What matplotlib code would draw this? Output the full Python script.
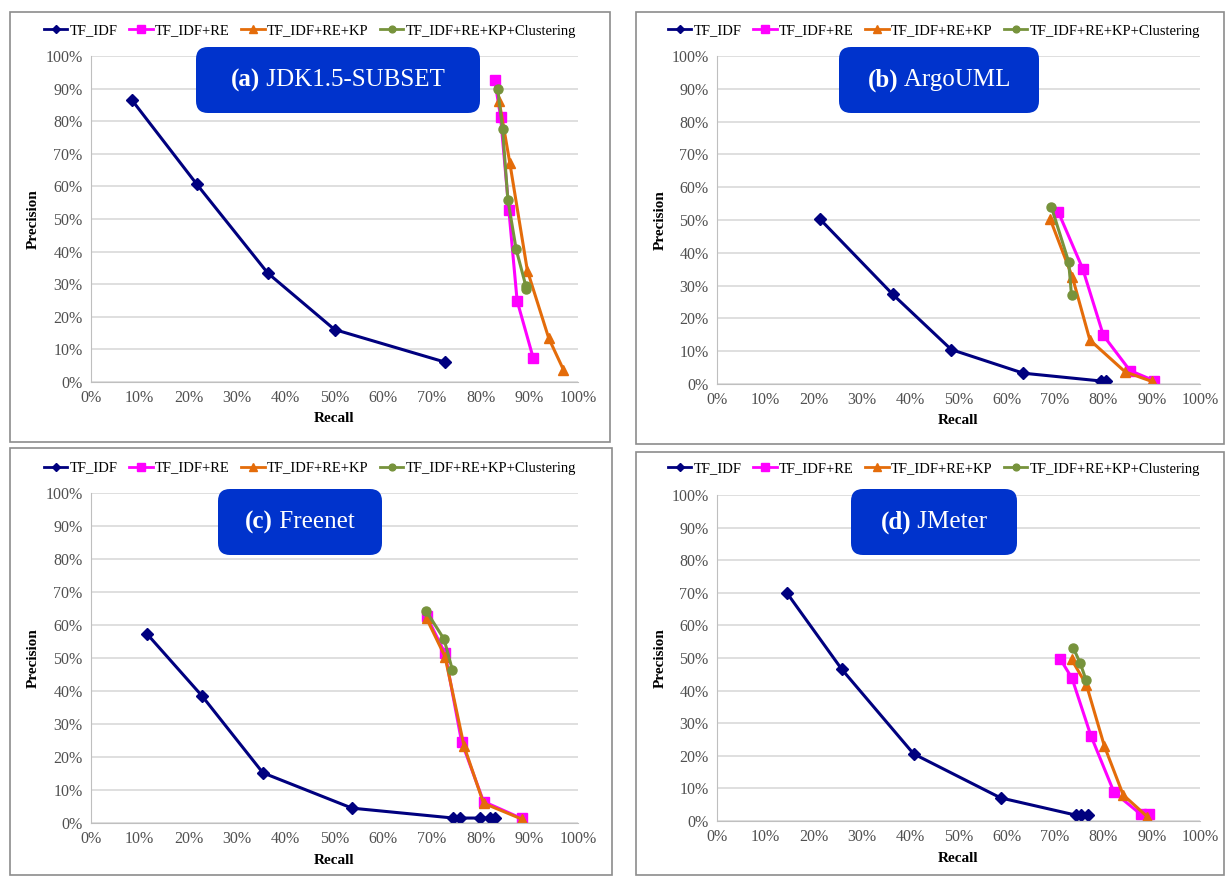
import matplotlib.pyplot as plt
from matplotlib.patches import FancyBboxPatch, Rectangle
from matplotlib.transforms import IdentityTransform
from matplotlib.lines import Line2D

plt.rcParams['font.family'] = ['Liberation Serif', 'DejaVu Serif']

# ---- data (recall %, precision %) ----
# (a) JDK1.5-SUBSET
a_tfidf_r = [8.4, 21.7, 36.3, 50.0, 72.7]
a_tfidf_p = [86.5, 60.7, 33.4, 16.1, 6.1]
a_re_r = [82.9, 84.1, 85.8, 87.5, 90.8]
a_re_p = [92.6, 81.4, 52.8, 24.9, 7.4]
a_kp_r = [83.8, 86.0, 89.6, 94.0, 97.0]
a_kp_p = [86.2, 67.2, 34.2, 13.4, 3.8]
a_cl_r = [83.5, 84.5, 85.6, 87.3, 89.3, 89.4]
a_cl_p = [90.0, 77.7, 55.9, 40.7, 29.4, 28.4]

# (b) ArgoUML
b_tfidf_r = [21.3, 36.4, 48.5, 63.4, 79.6, 80.5]
b_tfidf_p = [50.3, 27.3, 10.5, 3.3, 0.9, 0.9]
b_re_r = [70.7, 75.7, 80.0, 85.5, 90.5]
b_re_p = [52.3, 35.2, 14.8, 4.1, 1.0]
b_kp_r = [69.0, 73.6, 77.2, 84.5, 90.0]
b_kp_p = [50.2, 32.5, 13.4, 3.7, 0.8]
b_cl_r = [69.2, 72.8, 73.4]
b_cl_p = [54.1, 37.3, 27.0]

# (c) Freenet
c_tfidf_r = [11.5, 22.8, 35.3, 53.6, 74.4, 75.7, 79.8, 81.9, 82.9]
c_tfidf_p = [57.3, 38.5, 15.2, 4.5, 1.5, 1.5, 1.5, 1.5, 1.5]
c_re_r = [68.9, 72.7, 76.1, 80.6, 88.4]
c_re_p = [62.7, 51.4, 24.6, 6.5, 1.4]
c_kp_r = [68.9, 72.7, 76.6, 80.6, 88.6]
c_kp_p = [62.0, 50.4, 23.3, 6.0, 1.1]
c_cl_r = [68.8, 72.5, 74.2]
c_cl_p = [64.3, 55.7, 46.4]

# (d) JMeter
d_tfidf_r = [14.5, 25.8, 40.7, 58.7, 74.3, 75.4, 76.9]
d_tfidf_p = [69.9, 46.6, 20.6, 7.1, 1.8, 1.8, 1.8]
d_re_r = [71.1, 73.5, 77.4, 82.2, 87.7, 89.5]
d_re_p = [49.6, 43.8, 26.2, 8.8, 2.1, 2.1]
d_kp_r = [73.4, 76.5, 80.2, 84.1, 89.1]
d_kp_p = [49.6, 41.7, 23.0, 8.0, 1.3]
d_cl_r = [73.8, 75.2, 76.4]
d_cl_p = [53.0, 48.4, 43.3]

series_names = ['TF_IDF', 'TF_IDF+RE', 'TF_IDF+RE+KP', 'TF_IDF+RE+KP+Clustering']
ticks = list(range(0, 101, 10))
tick_labels = [f'{t}%' for t in ticks]

W, H = 1226, 876
fig = plt.figure(figsize=(W / 100, H / 100), dpi=100)
ident = IdentityTransform()

styles = [
    dict(color='#00007F', marker='D', ms=6),
    dict(color='#FF00FF', marker='s', ms=7),
    dict(color='#E46C0A', marker='^', ms=7),
    dict(color='#77933C', marker='o', ms=6.5),
]

panels = [
    dict(frame=(10, 12, 610, 442), ax=(91, 56, 578, 382), box=(196, 47, 480, 113),
         tag='(a)', name='JDK1.5-SUBSET', leg=(310, 31), ylab=33, xlab=418,
         data=[(a_tfidf_r, a_tfidf_p), (a_re_r, a_re_p), (a_kp_r, a_kp_p), (a_cl_r, a_cl_p)]),
    dict(frame=(636, 12, 1224, 444), ax=(717, 56, 1200, 384), box=(839, 47, 1039, 113),
         tag='(b)', name='ArgoUML', leg=(934, 31), ylab=660, xlab=420,
         data=[(b_tfidf_r, b_tfidf_p), (b_re_r, b_re_p), (b_kp_r, b_kp_p), (b_cl_r, b_cl_p)]),
    dict(frame=(10, 448, 612, 875), ax=(91, 493, 578, 823), box=(218, 489, 382, 555),
         tag='(c)', name='Freenet', leg=(310, 468), ylab=33, xlab=860,
         data=[(c_tfidf_r, c_tfidf_p), (c_re_r, c_re_p), (c_kp_r, c_kp_p), (c_cl_r, c_cl_p)]),
    dict(frame=(636, 452, 1224, 875), ax=(717, 495, 1200, 821), box=(851, 489, 1017, 555),
         tag='(d)', name='JMeter', leg=(934, 469), ylab=660, xlab=858,
         data=[(d_tfidf_r, d_tfidf_p), (d_re_r, d_re_p), (d_kp_r, d_kp_p), (d_cl_r, d_cl_p)]),
]

renderer = fig.canvas.get_renderer()

for p in panels:
    x0, y0, x1, y1 = p['frame']
    fig.add_artist(Rectangle((x0, H - y1), x1 - x0, y1 - y0, fill=False,
                             ec='#8C8C8C', lw=1.2, transform=ident))

    l, t, r, b = p['ax']
    ax = fig.add_axes([l / W, 1 - b / H, (r - l) / W, (b - t) / H])
    for (xs, ys), st in zip(p['data'], styles):
        ax.plot(xs, ys, lw=2.2, **st)
    ax.set_xlim(0, 100)
    ax.set_ylim(0, 100)
    ax.set_xticks(ticks)
    ax.set_xticklabels(tick_labels)
    ax.set_yticks(ticks)
    ax.set_yticklabels(tick_labels)
    ax.tick_params(length=0, labelsize=11.5, labelcolor='#505050', pad=6)
    ax.yaxis.grid(True, color='#D9D9D9', lw=1.2)
    ax.set_axisbelow(True)
    for s in ['top', 'right']:
        ax.spines[s].set_visible(False)
    for s in ['left', 'bottom']:
        ax.spines[s].set_color('#BFBFBF')

    fig.text(p['ylab'], H - (t + b) / 2, 'Precision', rotation=90, ha='center', va='center',
             fontsize=11, fontweight='bold', transform=ident)
    fig.text((l + r) / 2, H - p['xlab'], 'Recall', ha='center', va='center',
             fontsize=11, fontweight='bold', transform=ident)

    handles = [Line2D([], [], lw=2, color=st['color'], marker=st['marker'], ms=st['ms'] * 0.75)
               for st in styles]
    lx, ly = p['leg']
    fig.legend(handles, series_names, loc='center', ncol=4, frameon=False,
               bbox_to_anchor=(lx / W, 1 - ly / H), fontsize=10.5, handlelength=1.6,
               handletextpad=0.15, columnspacing=0.8, borderaxespad=0)

    bx0, by0, bx1, by1 = p['box']
    fig.add_artist(FancyBboxPatch((bx0, H - by1), bx1 - bx0, by1 - by0,
                                  boxstyle='round,pad=0,rounding_size=12',
                                  fc='#0033CC', ec='none', transform=ident))
    cx, cy = (bx0 + bx1) / 2, H - (by0 + by1) / 2
    t1 = fig.text(cx, cy, p['tag'], color='white', fontsize=18, fontweight='bold',
                  ha='left', va='center', transform=ident)
    t2 = fig.text(cx, cy, ' ' + p['name'], color='white', fontsize=18,
                  ha='left', va='center', transform=ident)
    w1 = t1.get_window_extent(renderer).width
    w2 = t2.get_window_extent(renderer).width
    start = cx - (w1 + w2) / 2
    t1.set_x(start)
    t2.set_x(start + w1)

fig.savefig('out.png', dpi=100)
